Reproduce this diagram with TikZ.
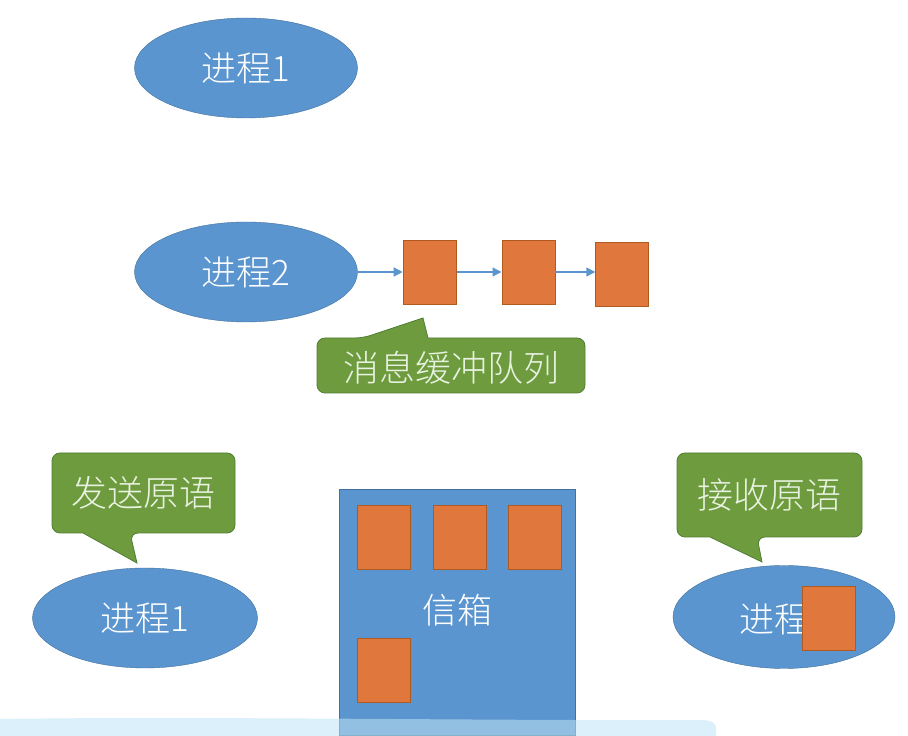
\documentclass[tikz,border=0pt]{standalone}
\usepackage{fontspec}
\setmainfont{Noto Sans CJK SC}[UprightFont=* Light]
\usepackage{tikz}
\usetikzlibrary{
	positioning,
	arrows.meta,
	shapes.geometric
}
\definecolor{ProcBlue}{RGB}{91,149,207}
\definecolor{ProcEdge}{RGB}{65,113,156}
\definecolor{MsgOrange}{RGB}{224,120,62}
\definecolor{MsgEdge}{RGB}{174,90,33}
\definecolor{TipGreen}{RGB}{110,155,62}
\definecolor{TipEdge}{RGB}{80,126,50}
\definecolor{TipText}{RGB}{232,242,224}
\definecolor{PenCyan}{RGB}{190,228,245}

\begin{document}
\begin{tikzpicture}[
	x=1pt,
	y=1pt,
	proc/.style={
		ellipse,
		draw=ProcEdge,
		fill=ProcBlue,
		inner sep=0pt,
		minimum width=223pt,
		minimum height=100pt,
		text=white,
		font=\fontsize{35}{40}\selectfont
	},
	msg/.style={
		draw=MsgEdge,
		fill=MsgOrange,
		line width=0.8pt,
		inner sep=0pt,
		minimum width=53pt,
		minimum height=64pt
	},
	tip/.style={
		draw=TipEdge,
		fill=TipGreen,
		line width=0.8pt
	},
	tiptext/.style={
		text=TipText,
		font=\fontsize{36}{40}\selectfont
	},
	link/.style={
		-{Triangle[length=9pt,width=9pt]},
		line width=1.4pt,
		ProcBlue
	}
	]
	
	\useasboundingbox (0,0) rectangle (908,736);
	
	% direct communication
	\node[proc] (P1) at (246,668) {进程1};
	
	% indirect: message queue
	\node[proc] (P2) at (246,464) {进程2};
	
	\node[
	msg,
	right=45pt of P2
	] (Q1) {};
	
	\node[
	msg,
	right=45pt of Q1
	] (Q2) {};
	
	\node[
	msg,
	right=40pt of Q2,
	yshift=-2pt
	] (Q3) {};
	
	\draw[link] (P2) -- (Q1);
	\draw[link] (Q1) -- (Q2);
	\draw[link] (Q2) -- (Q3.west |- Q2);
	
	\draw[tip] (317,370) [rounded corners=8pt]-- (317,398) -- (363,398)
	[sharp corners]-- (423,418) -- (428,398)
	[rounded corners=8pt]-- (585,398) -- (585,343) -- (317,343) -- cycle;
	\node[tiptext] (QL) at (451,368) {消息缓冲队列};
	
	% mailbox
	\node[
	draw=ProcEdge,
	fill=ProcBlue,
	minimum width=236pt,
	minimum height=246pt,
	inner sep=0pt
	] (MB) at (457,124) {};
	\node[
	text=white,
	font=\fontsize{35}{40}\selectfont
	] (MBL) at (457,126) {信箱};
	
	\node[msg] (B1) at (383.5,199) {};
	\node[msg] (B2) at (459.5,199) {};
	\node[msg] (B3) at (535,199) {};
	\node[msg] (B4) at (383.5,66) {};
	
	% sender
	\node[
	proc,
	minimum width=225pt
	] (S) at (145,118) {进程1};
	
	\draw[tip] (52,243) [rounded corners=8pt]-- (52,283) -- (235,283) -- (235,203) -- (130,203)
	[sharp corners]-- (137,173) -- (83,203)
	[rounded corners=8pt]-- (52,203) -- cycle;
	\node[tiptext] (SL) at (143.5,243) {发送原语};
	
	% receiver
	\node[
	proc,
	minimum width=222pt,
	minimum height=103pt
	] (R) at (784,119) {};
	\node[
	text=white,
	font=\fontsize{35}{40}\selectfont,
	anchor=west,
	inner sep=0pt
	] (RL) at (739,117) {进程};
	\node[msg] (RM) at (829,117.5) {};
	
	\draw[tip] (677,241) [rounded corners=8pt]-- (677,283) -- (862,283) -- (862,199) -- (757,199)
	[sharp corners]-- (762,174) -- (710,199)
	[rounded corners=8pt]-- (677,199) -- cycle;
	\node[tiptext] (RT) at (769.5,241) {接收原语};
	
	% pen stroke along the bottom
	\fill[PenCyan,opacity=0.55] (0,0) -- (0,17) .. controls (200,20) and (500,15) .. (700,16)
	.. controls (712,16) and (716,13) .. (716,8) -- (716,0) -- cycle;
	
\end{tikzpicture}
\end{document}
